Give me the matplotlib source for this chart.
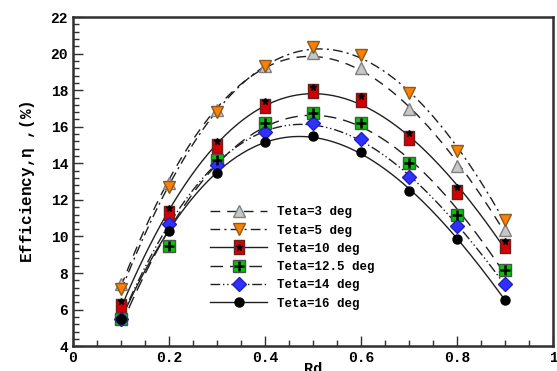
import numpy as np
import matplotlib
matplotlib.use("Agg")
from matplotlib import pyplot as plt
from matplotlib.path import Path
from matplotlib.legend_handler import HandlerTuple

# data
rd = [0.1, 0.2, 0.3, 0.4, 0.5, 0.6, 0.7, 0.8, 0.9]
eff_3 = [7.4, 12.9, 16.9, 19.3, 20.05, 19.2, 16.95, 13.85, 10.35]
eff_5 = [7.1, 12.7, 16.8, 19.3, 20.35, 19.95, 17.85, 14.65, 10.9]
eff_10 = [6.2, 11.3, 14.95, 17.15, 17.95, 17.45, 15.4, 12.45, 9.5]
eff_12_5 = [5.5, 9.5, 14.2, 16.2, 16.75, 16.2, 14.0, 11.2, 8.15]
eff_14 = [5.5, 10.7, 13.9, 15.7, 16.2, 15.35, 13.25, 10.55, 7.4]
eff_16 = [5.5, 10.3, 13.45, 15.15, 15.5, 14.6, 12.5, 9.85, 6.55]
labels = ["Teta=3 deg", "Teta=5 deg", "Teta=10 deg",
          "Teta=12.5 deg", "Teta=14 deg", "Teta=16 deg"]

mono = ["Liberation Mono", "DejaVu Sans"]
plt.rcParams["font.family"] = mono
plt.rcParams["font.weight"] = "bold"

# tall rectangle for the Teta=10 markers
rect = Path([(-0.33, -0.5), (0.33, -0.5), (0.33, 0.5), (-0.33, 0.5), (-0.33, -0.5)],
            [Path.MOVETO, Path.LINETO, Path.LINETO, Path.LINETO, Path.CLOSEPOLY])

styles = [
    dict(ls=(0, (7, 5)), marker="^", mfc="#c8c8c8", mec="#808080", ms=8.5),
    dict(ls=(0, (7, 3, 1.5, 3)), marker="v", mfc="#ff8000", mec="#8a5a20", ms=8.5),
    dict(ls="-", marker=rect, mfc="#d40000", mec="#6a2020", ms=10),
    dict(ls=(0, (9, 5)), marker="s", mfc="#00c800", mec="#505050", ms=8.5),
    dict(ls=(0, (7, 2, 1, 2, 1, 2)), marker="D", mfc="#3030ff", mec="#2020c0", ms=7),
    dict(ls="-", marker="o", mfc="black", mec="black", ms=6.5),
]
inner = [None, None, dict(marker="*", ms=5, c="black", dy=0.25),
         dict(marker="+", ms=7, c="black", mew=1.8, dy=0), None, None]

fig = plt.figure(figsize=(5.57, 3.71), dpi=100)
ax = fig.add_axes([0.131, 0.067, 0.862, 0.887])

x = np.array(rd)
xs = np.linspace(0.1, 0.9, 200)
handles = []
for ys, st, inn in zip([eff_3, eff_5, eff_10, eff_12_5, eff_14, eff_16], styles, inner):
    coef = np.polyfit(x, ys, 3)
    ax.plot(xs, np.polyval(coef, xs), color="#202020", lw=1.0, ls=st["ls"])
    ax.plot(x, ys, ls="none", marker=st["marker"], mfc=st["mfc"],
            mec=st["mec"], ms=st["ms"], mew=1.0, zorder=3)
    h = ax.plot([], [], color="#202020", lw=1.0, ls=st["ls"], marker=st["marker"],
                mfc=st["mfc"], mec=st["mec"], ms=st["ms"], mew=1.0)[0]
    if inn is not None:
        ax.plot(x, np.array(ys) + inn["dy"], ls="none", marker=inn["marker"], ms=inn["ms"],
                color=inn["c"], mew=inn.get("mew", 1.0), zorder=4)
        hov = ax.plot([], [], ls="none", marker=inn["marker"], ms=inn["ms"],
                      color=inn["c"], mew=inn.get("mew", 1.0))[0]
        handles.append((h, hov))
    else:
        handles.append(h)

ax.legend(handles, labels, handler_map={tuple: HandlerTuple(ndivide=1, pad=0)},
          loc="upper left", bbox_to_anchor=(0.285, 0.425), frameon=False,
          borderpad=0, borderaxespad=0, numpoints=1,
          handlelength=4.6, handletextpad=0.8, labelspacing=0.5,
          prop=dict(family=mono, weight="bold", size=9))

ax.set_xlim(0, 1)
ax.set_ylim(4, 22)
ax.set_xticks([0, 0.2, 0.4, 0.6, 0.8, 1])
ax.set_xticklabels(["0", "0.2", "0.4", "0.6", "0.8", "1"])
ax.set_yticks(range(4, 23, 2))
ax.set_xticks(np.arange(0, 1.001, 0.05), minor=True)
ax.set_yticks(np.arange(4, 22.01, 0.4), minor=True)
ax.tick_params(which="both", direction="in", top=False, right=False,
               colors="#303030", labelsize=10.5, labelcolor="black", width=1)
ax.tick_params(which="major", length=7)
ax.tick_params(which="minor", length=4)
for lab in ax.get_xticklabels() + ax.get_yticklabels():
    lab.set_fontweight("bold")
for sp in ax.spines.values():
    sp.set_linewidth(1.8)
    sp.set_color("#303030")

ax.set_ylabel("Efficiency,$\\mathregular{\\eta}$ ,(%)", fontsize=11.5,
              fontweight="bold", labelpad=10)
ax.set_xlabel("Rd", fontsize=11, fontweight="bold", labelpad=-2)

fig.savefig("out.png", dpi=100)
